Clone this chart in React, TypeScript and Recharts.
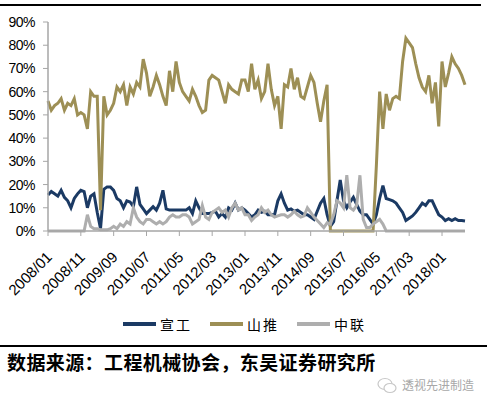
import React from 'react'
import { LineChart, Line, XAxis, YAxis, Legend } from 'recharts'

// monthly, 2008/01 .. 2018/08
const months: string[] = []
for (let y = 2008; y <= 2018; y++) {
  for (let m = 1; m <= 12; m++) months.push(`${y}/${String(m).padStart(2, '0')}`)
}
const categories = months.slice(0, 128)

const seriesNames = ['宣工', '山推', '中联']

// 宣工
const xuangong = [
  15.5, 17, 16, 15, 17.5, 14.5, 13, 10, 14, 16,
  17.5, 17, 10, 15, 16, 8, 1, 18, 19, 19,
  17.5, 14, 13, 10, 13, 12.5, 10.5, 19, 11.5, 9.5,
  7.5, 9, 10.5, 9, 12, 17.5, 9.5, 9, 9, 9,
  9, 9, 9, 10, 7.5, 13, 10, 7.5, 7.5, 7.5,
  8, 8.5, 6, 7.5, 6, 10, 9, 12, 9, 10,
  9, 7.5, 6, 7, 9, 8, 8.5, 7, 7, 7,
  13, 16, 12, 9, 9.5, 8.5, 9, 8, 7, 7,
  6, 5, 8.5, 12, 14, 7, 2, 4, 13, 22,
  13, 10, 12.5, 14.5, 11.5, 8.5, 7, 7, 5, 3,
  7, 14, 19.5, 14, 13.5, 13, 12, 10, 8, 4.5,
  5.5, 6.5, 8, 10, 12, 11, 13, 13, 10, 7,
  6, 4.5, 5.3, 4.5, 5.3, 4.5, 4.5, 4.3,
]

// 山推
const shantui = [
  56, 52, 54, 55, 57, 52, 55, 54, 57, 50,
  51, 50, 44, 60, 58, 58, 9, 58, 50, 52,
  55, 62, 60, 63, 54, 62, 59, 64, 62, 74,
  68, 58, 62, 67, 63, 58, 54, 69, 60, 73,
  64, 60, 58, 56, 61, 58, 54, 51, 52, 65,
  67, 66, 65, 60, 55, 63, 61, 60, 59, 65,
  65, 60, 72, 61, 65, 57, 60, 72, 61, 54,
  58, 44, 63, 62, 70, 61, 66, 58, 57, 62,
  67, 64, 55, 47, 56, 63, 0, 0, 0, 0,
  0, 0, 0, 0, 0, 0, 0, 0, 0, 0,
  28, 60, 44, 59, 52, 57, 58, 57, 73, 83,
  81, 79, 72, 66, 62, 60, 67, 55, 64, 45,
  73, 62, 68, 75, 72, 70, 67, 63,
]

// 中联
const zhonglian = [
  0, 0, 0, 0, 0, 0, 0, 0, 0, 0,
  0, 0, 7, 2, 1, 1, 0.5, 0.5, 0.5, 1,
  2, 1, 3, 2, 4, 3, 10, 6, 4, 3,
  5, 5, 4, 3, 4, 3, 4, 6, 7, 6,
  6, 7, 7, 6, 3, 4, 5, 11, 6, 5,
  8, 9, 10, 8, 9, 6, 10, 12, 9, 10,
  7, 7, 4.5, 6, 7, 10, 8, 9, 7, 6,
  6.5, 7, 7, 6, 7, 8.5, 7, 6, 6.5, 10,
  8, 6, 4.5, 3, 1.5, 3.5, 3, 7, 13, 12,
  10, 24, 10, 9, 11, 24, 5, 1.5, 1.5, 3,
  4, 5, 3, 0, 0, 0, 0, 0, 0, 0,
  0, 0, 0, 0, 0, 0, 0, 0, 0, 0,
  0, 0, 0, 0, 0, 0, 0, 0,
]

const yTicks = [0, 10, 20, 30, 40, 50, 60, 70, 80, 90]

const data = categories.map((month, i) => ({
  month,
  xg: xuangong[i],
  st: shantui[i],
  zl: zhonglian[i],
}))

const AXIS = '#a6a6a6'

const XTick = ({ x, y, payload }: any) => (
  <text
    x={x + 5}
    y={y + 20}
    transform={`rotate(-45, ${x + 5}, ${y + 20})`}
    textAnchor="end"
    fontSize={15}
    fill="#000"
  >
    {payload.value}
  </text>
)

const renderLegend = (props: any) => {
  const items = [...props.payload].sort(
    (a: any, b: any) => seriesNames.indexOf(a.value) - seriesNames.indexOf(b.value)
  )
  return (
    <div style={{ display: 'flex', justifyContent: 'center', alignItems: 'center' }}>
      {items.map((e: any, i: number) => (
        <div key={e.value} style={{ display: 'flex', alignItems: 'center', marginLeft: i ? 18 : 0 }}>
          <div style={{ width: 33, height: 4, background: e.color, marginRight: 4 }} />
          <span style={{ fontSize: 14, letterSpacing: 2, fontFamily: '"Noto Sans CJK SC"', color: '#000' }}>{e.value}</span>
        </div>
      ))}
    </div>
  )
}

export default function App() {
  return (
    <div style={{ position: 'absolute', left: 0, top: 0, width: 489, height: 407, background: '#fff', fontFamily: '"Liberation Sans", Arial, sans-serif', overflow: 'hidden' }}>
      <div style={{ position: 'absolute', left: 0, top: 4, width: 481, height: 2, background: '#000' }} />
      <div style={{ position: 'absolute', left: 0, top: 0 }}>
        <LineChart width={489} height={340} data={data} margin={{ top: 22, right: 24, left: 0, bottom: 49 }}>
          <XAxis
            dataKey="month"
            interval={9}
            height={60}
            tickSize={5}
            axisLine={{ stroke: AXIS, strokeWidth: 1.5 }}
            tickLine={{ stroke: AXIS }}
            tick={<XTick />}
          />
          <YAxis
            width={48}
            domain={[0, 90]}
            ticks={yTicks}
            interval={0}
            tickSize={5}
            tickMargin={8}
            tickFormatter={(v: number) => `${v}%`}
            axisLine={{ stroke: AXIS, strokeWidth: 1.5 }}
            tickLine={{ stroke: AXIS }}
            tick={{ fontSize: 14, fill: '#000', letterSpacing: -0.5 }}
          />
          <Legend
            verticalAlign="middle"
            align="center"
            layout="horizontal"
            content={renderLegend}
            wrapperStyle={{ top: 314, left: 0, width: 489 }}
          />
          <Line type="linear" dataKey="xg" name={seriesNames[0]} stroke="#1b3a64" strokeWidth={3} dot={false} isAnimationActive={false} />
          <Line type="linear" dataKey="st" name={seriesNames[1]} stroke="#9d8f55" strokeWidth={3} dot={false} isAnimationActive={false} />
          <Line type="linear" dataKey="zl" name={seriesNames[2]} stroke="#aeaeae" strokeWidth={3} dot={false} isAnimationActive={false} />
        </LineChart>
      </div>
      <div style={{ position: 'absolute', left: 0, top: 345, width: 487, height: 2, background: '#000' }} />
      <div style={{ position: 'absolute', left: 7, top: 351, fontSize: 19, lineHeight: '22px', fontWeight: 700, fontFamily: '"Noto Sans CJK SC"', color: '#000', whiteSpace: 'nowrap', letterSpacing: 0.4 }}>
        数据来源：工程机械协会，东吴证券研究所
      </div>
      <svg style={{ position: 'absolute', left: 377, top: 377 }} width={20} height={17}>
        <ellipse cx={8} cy={7} rx={7} ry={5.5} fill="none" stroke="#c8c8c8" strokeWidth={1.2} />
        <ellipse cx={13} cy={11} rx={6} ry={4.5} fill="#fff" stroke="#c8c8c8" strokeWidth={1.2} />
      </svg>
      <div style={{ position: 'absolute', left: 402, top: 377, fontSize: 12, lineHeight: '15px', fontFamily: '"Noto Sans CJK SC"', color: '#a8a8a8', whiteSpace: 'nowrap' }}>
        透视先进制造
      </div>
    </div>
  )
}
